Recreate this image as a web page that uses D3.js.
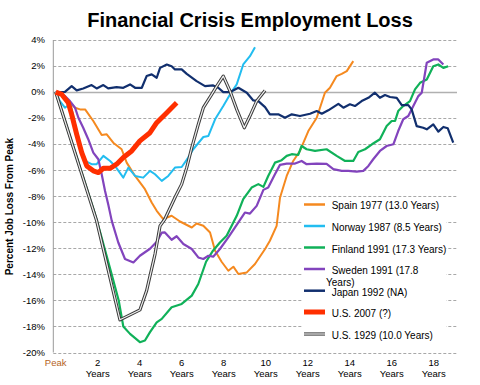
<!DOCTYPE html>
<html>
<head>
<meta charset="utf-8">
<script src="https://cdn.jsdelivr.net/npm/d3@7"></script>
<style>
  body { margin: 0; background: #fff; }
  svg { font-family: "Liberation Sans", Arial, sans-serif; }
</style>
</head>
<body>
<div id="chart"></div>
<script>
// data: [years after peak, percent job loss from peak]
const spain1977 = [[0,0],[0.29,-0.26],[0.6,-0.69],[0.92,-1.2],[1.16,-1.33],[1.4,-1.33],[1.79,-2.22],[2.19,-3.3],[2.43,-3.24],[2.74,-3.89],[3.14,-4.39],[3.38,-5.42],[3.78,-6.44],[4.25,-7.46],[4.57,-8.48],[4.81,-9.12],[5.12,-9.75],[5.52,-9.5],[5.92,-9.94],[6.48,-10.4],[6.71,-10.09],[7.03,-10.27],[7.35,-10.78],[7.59,-12.18],[7.9,-13.03],[8.22,-13.72],[8.46,-13.41],[8.7,-13.97],[9.1,-13.85],[9.49,-13.2],[9.97,-12.05],[10.2,-11.42],[10.52,-10.27],[10.68,-8.12],[11.0,-6.44],[11.31,-5.29],[11.63,-4.52],[12.03,-2.99],[12.43,-1.97],[12.82,-0.05],[13.06,0.33],[13.38,1.23],[13.62,1.4],[13.86,1.61],[14.17,2.38]];
const norway1987 = [[0,0],[0.2,-0.69],[0.44,-1.2],[0.7,-0.9],[1.16,-4.14],[1.4,-5.29],[1.71,-5.54],[1.95,-5.54],[2.27,-4.9],[2.59,-5.29],[2.82,-5.67],[3.22,-6.57],[3.46,-5.8],[3.78,-6.44],[4.17,-6.57],[4.49,-6.05],[4.73,-6.31],[5.05,-6.82],[5.36,-6.44],[5.68,-5.8],[6.0,-5.75],[6.31,-5.03],[6.55,-4.39],[7.03,-3.45],[7.27,-3.37],[7.59,-2.09],[7.98,-1.07],[8.3,-0.18],[8.62,0.59],[8.93,2.12],[9.25,2.76],[9.49,3.45]];
const finland1991 = [[0,0],[1.82,-9.12],[2.14,-10.9],[2.62,-13.72],[3.0,-16.0],[3.22,-18.0],[3.54,-18.57],[4.01,-19.21],[4.25,-19.08],[4.49,-18.44],[4.81,-17.68],[5.05,-17.42],[5.52,-16.53],[6.0,-16.27],[6.48,-15.63],[6.79,-14.74],[7.16,-13.03],[7.49,-12.18],[7.82,-11.55],[8.14,-11.03],[8.62,-9.5],[8.93,-8.22],[9.33,-7.33],[9.65,-7.07],[9.89,-7.28],[10.12,-6.44],[10.44,-5.42],[10.76,-5.23],[11.0,-4.9],[11.24,-4.77],[11.55,-4.83],[11.71,-4.14],[11.95,-4.39],[12.35,-4.52],[12.9,-4.39],[13.38,-4.9],[13.78,-5.29],[14.17,-5.29],[14.41,-4.6],[14.73,-4.39],[15.06,-4.01],[15.44,-3.62],[15.76,-2.61],[16.0,-2.22],[16.16,-2.22],[16.31,-1.46],[16.55,-1.07],[16.87,-0.69],[17.11,0.21],[17.35,0.71],[17.67,0.97],[17.98,1.99],[18.22,2.12],[18.46,1.86],[18.69,1.99]];
const sweden1991 = [[0,0],[0.44,-0.31],[0.68,-0.69],[0.92,-1.2],[1.08,-1.97],[1.31,-2.74],[1.55,-3.62],[1.79,-4.65],[2.03,-5.16],[2.19,-6.31],[2.35,-7.59],[2.5,-8.61],[2.67,-9.89],[2.98,-11.55],[3.3,-12.82],[3.7,-13.08],[4.01,-12.57],[4.49,-12.03],[4.81,-11.5],[5.05,-10.8],[5.2,-10.78],[5.52,-11.34],[5.76,-11.07],[6.08,-11.67],[6.48,-12.05],[6.79,-12.7],[7.03,-12.82],[7.27,-12.57],[7.5,-12.64],[7.82,-12.05],[8.22,-11.16],[8.62,-10.19],[9.01,-9.25],[9.25,-9.33],[9.57,-8.74],[9.89,-7.51],[10.12,-7.33],[10.44,-6.31],[10.68,-5.59],[11.0,-5.49],[11.4,-5.49],[11.71,-5.29],[11.95,-5.54],[12.43,-5.49],[12.9,-5.52],[13.22,-5.92],[13.62,-6.05],[13.93,-6.05],[14.33,-6.11],[14.65,-6.05],[14.89,-5.67],[15.12,-5.16],[15.44,-4.52],[15.76,-4.14],[16.08,-4.01],[16.31,-2.99],[16.55,-2.09],[16.79,-1.84],[17.03,-1.07],[17.27,-0.31],[17.43,-0.05],[17.67,2.25],[17.98,2.51],[18.22,2.51],[18.46,2.12]];
const japan1992 = [[0,0],[0.44,0.02],[0.76,0.46],[1.0,0.13],[1.31,0.28],[1.71,0.54],[1.95,0.28],[2.27,0.54],[2.5,0.28],[2.9,0.38],[3.22,0.33],[3.54,0.59],[3.78,0.33],[4.1,0.33],[4.33,1.23],[4.57,1.36],[4.81,1.1],[4.97,1.86],[5.29,2.12],[5.52,1.99],[5.68,1.74],[6.0,1.74],[6.24,1.4],[6.71,0.84],[7.11,0.46],[7.5,0.51],[7.74,0.33],[7.98,0],[8.3,0],[8.54,0.2],[8.7,0.33],[9.1,-0.05],[9.41,-0.64],[9.65,-0.69],[9.97,-1.15],[10.2,-1.71],[10.6,-1.71],[10.92,-1.97],[11.24,-1.71],[11.63,-1.84],[12.11,-1.66],[12.43,-1.46],[12.67,-1.66],[12.98,-1.4],[13.46,-0.9],[13.7,-1.2],[14.01,-0.94],[14.25,-1.07],[14.57,-0.69],[14.89,-0.44],[15.2,-0.05],[15.44,-0.44],[15.68,-0.23],[15.92,-0.38],[16.24,-0.44],[16.48,-1.0],[16.79,-1.0],[16.95,-1.33],[17.19,-2.61],[17.5,-2.74],[17.67,-2.86],[17.98,-2.48],[18.22,-3.04],[18.46,-2.68],[18.67,-2.78],[18.93,-3.89]];
const us2007 = [[0,0],[0.29,-0.18],[0.6,-0.82],[0.76,-1.71],[1.0,-3.24],[1.24,-4.65],[1.48,-5.67],[1.79,-6.05],[2.03,-6.18],[2.27,-5.85],[2.59,-5.85],[2.9,-5.54],[3.22,-5.03],[3.62,-4.52],[4.01,-3.75],[4.49,-3.12],[4.81,-2.35],[5.29,-1.59],[5.76,-0.82]];
const us1929 = [[0,0],[1.95,-9.89],[3.06,-17.49],[4.01,-16.73],[4.33,-15.25],[4.73,-12.44],[4.97,-10.27],[5.2,-9.75],[5.68,-8.1],[6.0,-7.07],[6.24,-5.8],[6.48,-4.27],[6.79,-2.48],[7.03,-1.2],[7.43,-0.18],[7.67,0.46],[7.98,1.23],[8.3,0.08],[8.62,-1.33],[8.98,-2.74],[9.25,-1.84],[9.57,-0.69],[9.97,0.13]];

const seriesNames = ["Spain 1977 (13.0 Years)", "Norway 1987 (8.5 Years)", "Finland 1991 (17.3 Years)", "Sweden 1991 (17.8 Years)", "Japan 1992 (NA)", "U.S. 2007 (?)", "U.S. 1929 (10.0 Years)"];
const seriesColors = ["#f5891f", "#22bdf0", "#10b159", "#8244bd", "#112f6e", "#ff2f00", "#3a3a3a"];
const seriesData = [spain1977, norway1987, finland1991, sweden1991, japan1992, us2007, us1929];
const seriesWidths = [2, 2, 2.2, 2.2, 2.2, 5, 3.2];

const yTicks = [4, 2, 0, -2, -4, -6, -8, -10, -12, -14, -16, -18, -20];
const xTicks = [0, 2, 4, 6, 8, 10, 12, 14, 16, 18];

const width = 480, height = 385;
const svg = d3.select("#chart").append("svg")
    .attr("width", width)
    .attr("height", height);

const x = d3.scaleLinear().domain([0, 2]).range([55.7, 97.7]);
const y = d3.scaleLinear().domain([4, -20]).range([40, 352.5]);
const xLeft = 53.3, xRight = 457;

// title
svg.append("text")
    .attr("x", 250)
    .attr("y", 27)
    .attr("text-anchor", "middle")
    .attr("font-size", 20)
    .attr("font-weight", "bold")
    .text("Financial Crisis Employment Loss");

// y axis label
svg.append("text")
    .attr("transform", `translate(13,${y(-8.8)}) rotate(-90)`)
    .attr("text-anchor", "middle")
    .attr("font-size", 10)
    .attr("font-weight", "bold")
    .text("Percent Job Loss From Peak");

// gridlines
svg.append("g").selectAll("line")
    .data(yTicks)
    .enter().append("line")
    .attr("x1", xLeft)
    .attr("x2", xRight)
    .attr("y1", d => Math.round(y(d)) + 0.5)
    .attr("y2", d => Math.round(y(d)) + 0.5)
    .attr("stroke", d => d === 0 ? "#b0b0b0" : "#a8a8a8")
    .attr("stroke-width", d => d === 0 ? 1.5 : 1)
    .attr("stroke-dasharray", d => d === 0 ? null : "3,2");

// left axis line
svg.append("line")
    .attr("x1", xLeft).attr("x2", xLeft)
    .attr("y1", y(4)).attr("y2", y(-20))
    .attr("stroke", "#999")
    .attr("stroke-width", 1);

// y tick labels
svg.append("g").selectAll("text")
    .data(yTicks)
    .enter().append("text")
    .attr("x", 45)
    .attr("y", d => y(d))
    .attr("dy", "0.35em")
    .attr("text-anchor", "end")
    .attr("font-size", 9.5)
    .text(d => d + "%");

// x tick labels
const xl = svg.append("g").selectAll("text")
    .data(xTicks)
    .enter().append("text")
    .attr("x", d => x(d))
    .attr("y", 366)
    .attr("text-anchor", "middle")
    .attr("font-size", 9.5)
    .attr("fill", d => d === 0 ? "#b5631d" : "#000");
xl.append("tspan").text(d => d === 0 ? "Peak" : d);
xl.filter(d => d !== 0).append("tspan")
    .attr("x", d => x(d))
    .attr("dy", 10.5)
    .text("Years");

// lines
const line = d3.line()
    .x(d => x(d[0]))
    .y(d => y(d[1]));

const drawOrder = [0, 1, 2, 3, 4, 6, 5];
drawOrder.forEach(i => {
    svg.append("path")
        .datum(seriesData[i])
        .attr("fill", "none")
        .attr("stroke", seriesColors[i])
        .attr("stroke-width", seriesWidths[i])
        .attr("stroke-linejoin", "round")
        .attr("d", line);
    if (i === 6) {
        // hollow look of the 1929 line
        svg.append("path")
            .datum(seriesData[i])
            .attr("fill", "none")
            .attr("stroke", "#f0f0f0")
            .attr("stroke-width", 1.2)
            .attr("stroke-linejoin", "round")
            .attr("d", line);
    }
});

// legend
const legend = svg.append("g");
legend.append("rect")
    .attr("x", 302).attr("y", 198)
    .attr("width", 144).attr("height", 148)
    .attr("fill", "#fff");

const legendY = [204.5, 226, 247.5, 269, 290.7, 312, 334];
const legendTextY = [205.7, 227.7, 249.3, 270.7, 292.3, 313.7, 335.7];
seriesNames.forEach((name, i) => {
    legend.append("line")
        .attr("x1", 304).attr("x2", 325)
        .attr("y1", legendY[i]).attr("y2", legendY[i])
        .attr("stroke", seriesColors[i])
        .attr("stroke-width", i === 5 ? 5 : (i === 6 ? 3.2 : 2.5));
    if (i === 6) {
        legend.append("line")
            .attr("x1", 304).attr("x2", 325)
            .attr("y1", legendY[i]).attr("y2", legendY[i])
            .attr("stroke", "#f0f0f0")
            .attr("stroke-width", 1.2);
    }
    const t = legend.append("text")
        .attr("x", 331.7)
        .attr("y", legendTextY[i])
        .attr("dy", "0.35em")
        .attr("font-size", 10);
    if (i === 3) {
        t.text("Sweden 1991 (17.8");
        legend.append("text")
            .attr("x", 326)
            .attr("y", 282.3)
            .attr("dy", "0.35em")
            .attr("font-size", 10)
            .text("Years)");
    } else {
        t.text(name);
    }
});
</script>
</body>
</html>
